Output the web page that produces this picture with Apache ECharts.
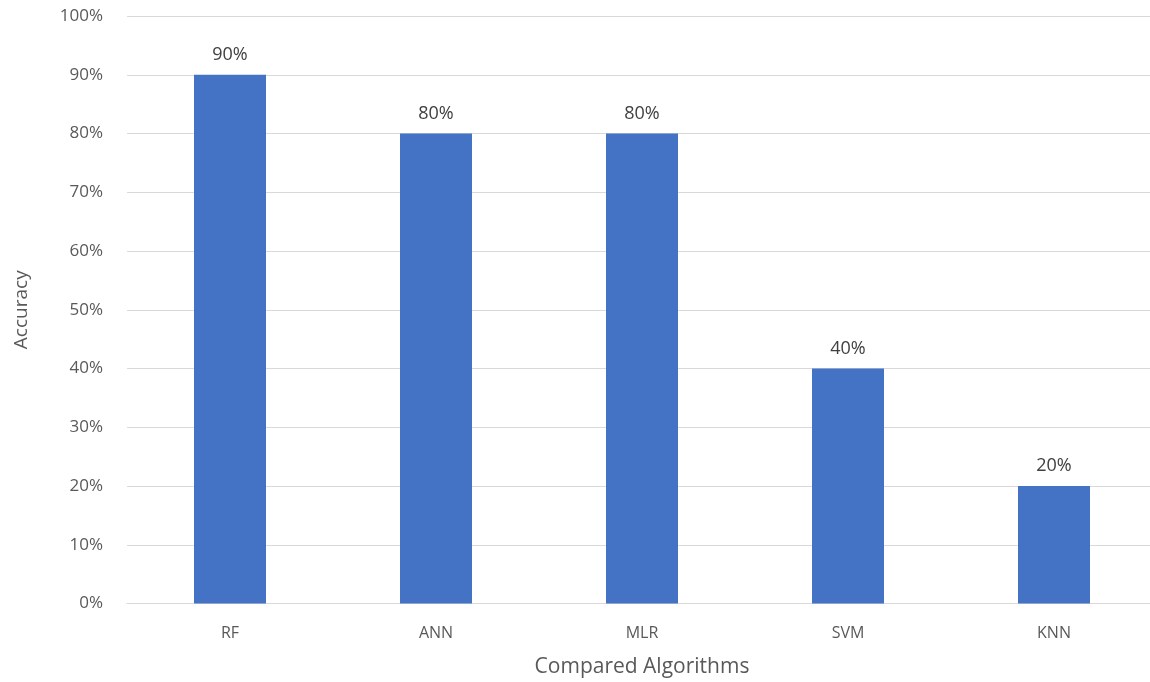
<!DOCTYPE html>
<html>
<head>
<meta charset="utf-8">
<script src="https://cdn.jsdelivr.net/npm/echarts@6/dist/echarts.min.js"></script>
<style>
  html, body { margin: 0; padding: 0; background: #fff; }
  #chart { width: 1150px; height: 682px; }
</style>
</head>
<body>
<div id="chart"></div>
<script>
// Accuracy of each compared algorithm (percent)
const categories = ['RF', 'ANN', 'MLR', 'SVM', 'KNN'];
const accuracy = [90, 80, 80, 40, 20];
const yTicks = { min: 0, max: 100, interval: 10 };

const font = '"Open Sans", "Liberation Sans", sans-serif';
const textColor = '#595959';

const chart = echarts.init(document.getElementById('chart'), null, { renderer: 'canvas' });
chart.setOption({
  backgroundColor: '#ffffff',
  animation: false,
  grid: {
    left: 127, top: 16, width: 1030, height: 587.5,
    containLabel: false,
    outerBoundsMode: 'none'
  },
  xAxis: {
    type: 'category',
    data: categories,
    name: 'Compared Algorithms',
    nameLocation: 'middle',
    nameGap: 53,
    nameTextStyle: { fontFamily: font, fontSize: 21, color: textColor },
    axisLine: { show: true, lineStyle: { color: '#d9d9d9', width: 1 } },
    axisTick: { show: false },
    axisLabel: { fontFamily: font, fontSize: 16, color: textColor, margin: 22 }
  },
  yAxis: {
    type: 'value',
    min: yTicks.min,
    max: yTicks.max,
    interval: yTicks.interval,
    name: 'Accuracy',
    nameLocation: 'middle',
    nameGap: 96,
    nameRotate: 90,
    nameTextStyle: { fontFamily: font, fontSize: 19, color: textColor },
    axisLine: { show: false },
    axisTick: { show: false },
    splitLine: { lineStyle: { color: '#d9d9d9', width: 1 } },
    axisLabel: { fontFamily: font, fontSize: 17, color: textColor, margin: 24, formatter: v => v + '%' }
  },
  series: [{
    type: 'bar',
    data: accuracy,
    barWidth: 72,
    itemStyle: { color: '#4472C4' },
    label: {
      show: true,
      position: 'top',
      distance: 11,
      fontFamily: font,
      fontSize: 18,
      color: '#404040',
      formatter: p => p.value + '%'
    }
  }]
});
</script>
</body>
</html>
